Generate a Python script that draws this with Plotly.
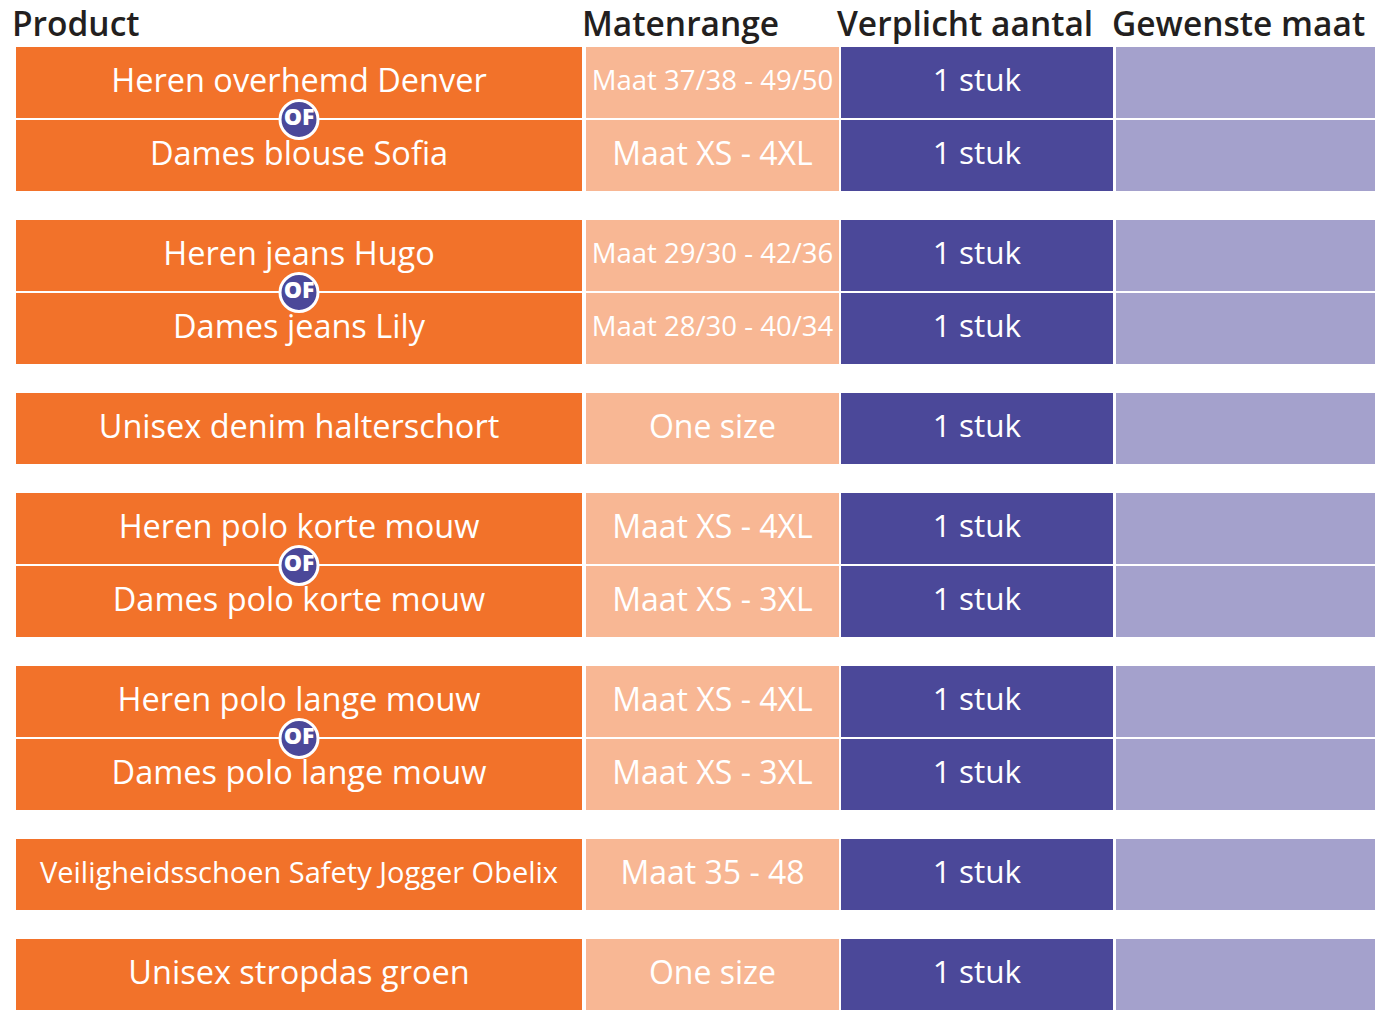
import plotly.graph_objects as go

# ---------------- data ----------------
headers = ["Product", "Matenrange", "Verplicht aantal", "Gewenste maat"]
products = [
    "Heren overhemd Denver", "Dames blouse Sofia",
    "Heren jeans Hugo", "Dames jeans Lily",
    "Unisex denim halterschort",
    "Heren polo korte mouw", "Dames polo korte mouw",
    "Heren polo lange mouw", "Dames polo lange mouw",
    "Veiligheidsschoen Safety Jogger Obelix",
    "Unisex stropdas groen",
]
size_ranges = [
    "Maat 37/38 - 49/50", "Maat XS - 4XL",
    "Maat 29/30 - 42/36", "Maat 28/30 - 40/34",
    "One size",
    "Maat XS - 4XL", "Maat XS - 3XL",
    "Maat XS - 4XL", "Maat XS - 3XL",
    "Maat 35 - 48",
    "One size",
]
quantities = ["1 stuk", "1 stuk", "1 stuk", "1 stuk", "1 stuk", "1 stuk",
              "1 stuk", "1 stuk", "1 stuk", "1 stuk", "1 stuk"]
desired = ["", "", "", "", "", "", "", "", "", "", ""]
groups = [1, 1, 2, 2, 3, 4, 4, 5, 5, 6, 7]
or_label = "OF"

# ---------------- layout constants ----------------
W, H = 1375, 1010
col_left = [16, 586, 841, 1116]
col_right = [582, 839, 1113, 1375]
colors = ["#F2722A", "#F8B794", "#4B4899", "#A4A1CC"]
top = 46.5
cell_h = 71
pitch = 73
gap = 27
FONT = "Open Sans"

# row centres derived from group structure
centers = []
y = top
for i, g in enumerate(groups):
    if i > 0 and g != groups[i - 1]:
        y += gap
    centers.append(y + cell_h / 2)
    y += pitch

n = len(products)
columns = [products, size_ranges, quantities, desired]

fig = go.Figure()

# cells as horizontal bars
for c in range(4):
    fig.add_trace(go.Bar(
        orientation="h",
        y=centers,
        x=[col_right[c] - col_left[c]] * n,
        base=[col_left[c]] * n,
        width=[cell_h] * n,
        marker=dict(color=colors[c], line=dict(width=0)),
        hoverinfo="skip",
        showlegend=False,
    ))

# cell texts
def text_size(s, col):
    if col == 0:
        return 29 if len(s) > 30 else 32.5
    if col == 1:
        return 27.5 if len(s) > 14 else 32
    return 31.5

for c in range(3):
    xc = (col_left[c] + col_right[c]) / 2
    fig.add_trace(go.Scatter(
        x=[xc] * n, y=[v + 1.5 for v in centers], mode="text",
        text=columns[c],
        textposition="middle center",
        textfont=dict(color="white", family=FONT,
                      size=[text_size(s, c) for s in columns[c]]),
        hoverinfo="skip", showlegend=False,
    ))

# "OF" badges between paired rows
of_y = [(centers[i] + centers[i + 1]) / 2 + 1
        for i in range(n - 1) if groups[i] == groups[i + 1]]
of_x = [(col_left[0] + col_right[0]) / 2] * len(of_y)
fig.add_trace(go.Scatter(
    x=of_x, y=of_y, mode="markers+text",
    text=[or_label] * len(of_y),
    textposition="middle center",
    marker=dict(size=38, color="#4B4899", line=dict(color="white", width=3)),
    textfont=dict(color="white", family=FONT, size=23, weight=800),
    hoverinfo="skip", showlegend=False,
))

# headers
for c, h in enumerate(headers):
    fig.add_annotation(
        x=col_left[c] - 6, y=23, xref="x", yref="y",
        text=h, showarrow=False, xanchor="left", yanchor="middle",
        font=dict(family=FONT, size=33.5, color="#231F20", weight=600),
    )

fig.update_layout(
    width=W, height=H,
    margin=dict(l=0, r=0, t=0, b=0),
    paper_bgcolor="white", plot_bgcolor="white",
    barmode="overlay", bargap=0,
    xaxis=dict(range=[0, W], visible=False, fixedrange=True),
    yaxis=dict(range=[H, 0], visible=False, fixedrange=True),
)

fig.write_html(
    "out.html",
    config={"displayModeBar": False},
    post_script="document.body.style.margin='0px';document.body.style.overflow='hidden';",
)
